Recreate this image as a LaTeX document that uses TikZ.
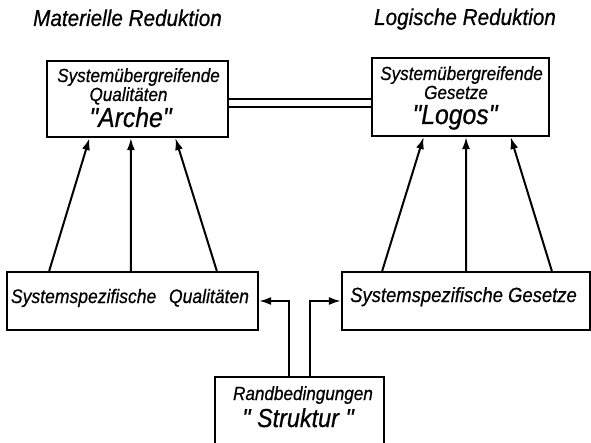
\documentclass[tikz,border=0pt]{standalone}
\usepackage{fontspec}
\newfontfamily\lt{Liberation Sans}[FakeStretch=0.9,FakeBold=0.6]
\usetikzlibrary{arrows.meta,calc}
\begin{document}
\begin{tikzpicture}[x=1pt,y=-1pt,
  box/.style={draw,line width=2.2pt,rectangle,inner sep=0pt},
  lbl/.style={font=\lt\itshape\fontsize{19}{22}\selectfont,inner sep=0pt,anchor=base},
  big/.style={font=\lt\itshape\fontsize{27.5}{30}\selectfont,inner sep=0pt,anchor=base},
  ttl/.style={font=\lt\itshape\fontsize{23}{26}\selectfont,inner sep=0pt,anchor=base},
  arr/.style={-{Latex[length=12pt,width=8pt]},line width=2pt},
  dbl/.style={line width=2pt}]
\useasboundingbox (0,0) rectangle (591,443);
\fill[white] (0,0) rectangle (591,443);

% titles
\node[ttl] (t1) at (127.5,26) {Materielle Reduktion};
\node[ttl] (t2) at (465,25) {Logische Reduktion};

% boxes
\node[box,minimum width=181pt,minimum height=76pt] (tl) at (137.5,99) {};
\node[box,minimum width=177pt,minimum height=78pt] (tr) at (460.5,97) {};
\node[box,minimum width=251pt,minimum height=58pt] (bl) at (132.5,301) {};
\node[box,minimum width=248pt,minimum height=58pt] (br) at (466,301) {};
\node[box,minimum width=169pt,minimum height=69pt] (rb) at (299.5,411.5) {};

% texts
\node[lbl] (tl1) at (138.5,82) {Systemübergreifende};
\node[lbl] (tl2) at (128.5,101) {Qualitäten};
\node[big] (tl3) at (130.5,127) {"Arche"};
\node[lbl] (tr1) at (461.5,80) {Systemübergreifende};
\node[lbl] (tr2) at (456,99) {Gesetze};
\node[big] (tr3) at (455,124) {"Logos"};
\node[lbl,font=\lt\itshape\fontsize{19.5}{22}\selectfont] (bl1) at (130,303) {Systemspezifische\hspace{0.4em} Qualitäten};
\node[lbl,font=\lt\itshape\fontsize{20.5}{23}\selectfont] (br1) at (463.5,302) {Systemspezifische Gesetze};
\node[lbl] (rb1) at (303,400) {Randbedingungen};
\node[big,font=\lt\itshape\fontsize{26}{29}\selectfont] (rb2) at (298,427) {" Struktur "};

% double connector
\coordinate (d1) at (tl.east);
\coordinate (d2) at ($(tl.east)+(0,8)$);
\draw[dbl] (d1) -- (d1 -| tr.west);
\draw[dbl] (d2) -- (d2 -| tr.west);

% left arrows
\draw[arr] ($(bl.north west)!0.171!(bl.north east)$) -- ($(tl.south west)!0.238!(tl.south east)$);
\draw[arr] ($(bl.north west)!0.494!(bl.north east)$) -- ($(tl.south west)!0.464!(tl.south east)$);
\draw[arr] ($(bl.north west)!0.833!(bl.north east)$) -- ($(tl.south west)!0.707!(tl.south east)$);

% right arrows
\draw[arr] ($(br.north west)!0.165!(br.north east)$) -- ($(tr.south west)!0.294!(tr.south east)$);
\draw[arr] ($(br.north west)!0.5!(br.north east)$) -- ($(tr.south west)!0.531!(tr.south east)$);
\draw[arr] ($(br.north west)!0.843!(br.north east)$) -- ($(tr.south west)!0.78!(tr.south east)$);

% from Randbedingungen
\draw[arr] ($(rb.north west)!0.44!(rb.north east)$) |- (bl.east);
\draw[arr] ($(rb.north west)!0.562!(rb.north east)$) |- (br.west);
\end{tikzpicture}
\end{document}
